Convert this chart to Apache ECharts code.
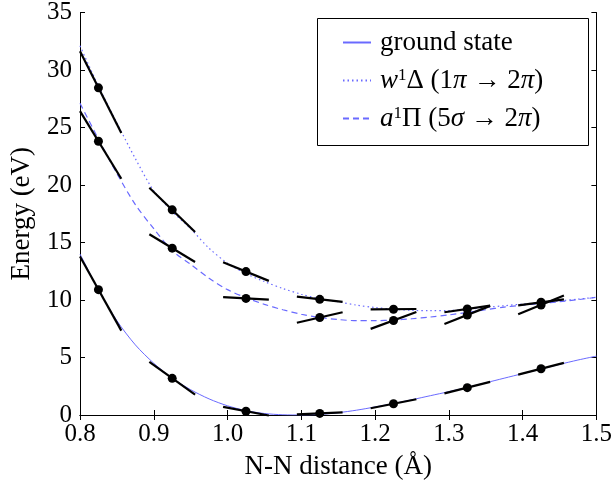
<!DOCTYPE html>
<html><head><meta charset="utf-8">
<script src="https://cdn.jsdelivr.net/npm/echarts@6/dist/echarts.min.js"></script>
<style>html,body{margin:0;padding:0;background:#fff}#c{width:615px;height:485px}</style>
</head><body><div id="c"></div>
<script>
// ---- data ----
const xGrid = [0.800,0.825,0.850,0.875,0.900,0.925,0.950,0.975,1.000,1.025,1.050,1.075,1.100,1.125,1.150,1.175,1.200,1.225,1.250,1.275,1.300,1.325,1.350,1.375,1.400,1.425,1.450,1.475,1.500];
const groundCurve = [14.0,10.9,8.2,6.1,4.5,3.2,2.2,1.4,0.8,0.38,0.13,0.02,0.0,0.05,0.2,0.42,0.7,1.0,1.33,1.68,2.03,2.4,2.8,3.2,3.6,4.0,4.4,4.78,5.12];
const wCurve = [32.1,28.6,25.4,22.3,19.5,17.7,16.2,14.5,13.2,12.3,11.6,11.0,10.5,10.1,9.85,9.55,9.35,9.2,9.1,9.07,9.08,9.18,9.35,9.5,9.65,9.78,9.92,10.08,10.23];
const aCurve = [27.1,24.0,21.0,18.3,16.2,14.3,13.1,11.9,10.9,10.2,9.62,9.15,8.76,8.47,8.3,8.2,8.2,8.26,8.37,8.52,8.7,8.92,9.15,9.38,9.55,9.7,9.85,10.03,10.23];

const pointX = [0.825,0.925,1.025,1.125,1.225,1.325,1.425];
const groundPts = [10.9,3.19,0.33,0.14,0.98,2.38,4.02];
const groundSlopes = [-115,-46,-12,2.8,12.6,16,16.5];
const wPts = [28.45,17.84,12.47,10.06,9.2,9.22,9.8];
const wSlopes = [-127,-62,-26,-7.4,0.5,9.3,8.4];
const aPts = [23.8,14.51,10.14,8.48,8.22,8.7,9.57];
const aSlopes = [-105,-39,-3.7,14.8,23.6,25.4,26.4];

const xMin = 0.8, xMax = 1.5, xStep = 0.1;
const yMin = 0, yMax = 35, yStep = 5;
const seriesNames = ['ground state', 'w1Delta', 'a1Pi'];
const xTitle = 'N-N distance (Å)';
const yTitle = 'Energy (eV)';

// ---- build ----
const HALF = 0.031;
const FONT = '"Liberation Serif", "DejaVu Serif", serif';
const BLUE = '#6a6aff';
const pair = (xs, ys) => xs.map((x, i) => [x, ys[i]]);
const triple = (xs, ys, ss) => xs.map((x, i) => [x, ys[i], ss[i]]);
const segData = [].concat(triple(pointX, groundPts, groundSlopes), triple(pointX, wPts, wSlopes), triple(pointX, aPts, aSlopes));
const ptData = [].concat(pair(pointX, groundPts), pair(pointX, wPts), pair(pointX, aPts));

const chart = echarts.init(document.getElementById('c'), null, {renderer: 'canvas'});
const axisCommon = {
  axisLine: {show: true, lineStyle: {color: '#000', width: 1}},
  axisTick: {show: true, inside: true, length: 5, lineStyle: {color: '#000', width: 1}},
  splitLine: {show: false}
};
const legendLabels = {
  'ground state': 'ground state',
  'w1Delta': '{it|w}{sup|1}Δ (1{it|π} → 2{it|π})',
  'a1Pi': '{it|a}{sup|1}Π (5{it|σ} → 2{it|π})'
};
chart.setOption({
  animation: false,
  backgroundColor: '#fff',
  textStyle: {fontFamily: FONT, color: '#000'},
  grid: {left: 74, right: 16, top: 10, bottom: 69, containLabel: false},
  xAxis: [
    Object.assign({type: 'value', position: 'bottom', min: xMin, max: xMax, interval: xStep,
      name: xTitle, nameLocation: 'middle', nameGap: 38,
      nameTextStyle: {fontFamily: FONT, fontSize: 27, color: '#000'},
      axisLabel: {fontFamily: FONT, fontSize: 25, color: '#000', margin: 7, formatter: v => v.toFixed(1)}}, axisCommon),
    Object.assign({type: 'value', position: 'top', min: xMin, max: xMax, interval: xStep,
      axisLabel: {show: false}}, axisCommon)
  ],
  yAxis: [
    Object.assign({type: 'value', position: 'left', min: yMin, max: yMax, interval: yStep,
      name: yTitle, nameLocation: 'middle', nameGap: 45,
      nameTextStyle: {fontFamily: FONT, fontSize: 27, color: '#000'},
      axisLabel: {fontFamily: FONT, fontSize: 25, color: '#000', margin: 8}}, axisCommon),
    Object.assign({type: 'value', position: 'right', min: yMin, max: yMax, interval: yStep,
      axisLabel: {show: false}}, axisCommon)
  ],
  legend: {
    data: seriesNames,
    left: 337, top: 24,
    orient: 'vertical',
    itemWidth: 28, itemHeight: 14, itemGap: 11,
    itemStyle: {color: 'transparent', borderColor: 'transparent', borderWidth: 0, opacity: 0},
    textStyle: {fontFamily: FONT, fontSize: 27, color: '#000', lineHeight: 27, padding: [0, 0, 0, 4],
      rich: {
        it: {fontFamily: FONT, fontSize: 27, fontStyle: 'italic', color: '#000', lineHeight: 27},
        sup: {fontFamily: FONT, fontSize: 17, color: '#000', padding: [0, 0, 10, 0]}
      }},
    formatter: n => legendLabels[n]
  },
  graphic: [{type: 'rect', left: 317, top: 18, shape: {width: 271, height: 127}, z: -1,
    style: {fill: '#fff', stroke: '#000', lineWidth: 1}}],
  series: [
    {name: seriesNames[0], type: 'line', data: pair(xGrid, groundCurve), smooth: 0.3, symbol: 'none',
      lineStyle: {color: BLUE, width: 1, type: 'solid'}, itemStyle: {color: BLUE}, z: 2},
    {name: seriesNames[1], type: 'line', data: pair(xGrid, wCurve), smooth: 0.3, symbol: 'none',
      lineStyle: {color: BLUE, width: 1.2, type: [1.5, 3]}, itemStyle: {color: BLUE}, z: 2},
    {name: seriesNames[2], type: 'line', data: pair(xGrid, aCurve), smooth: 0.3, symbol: 'none',
      lineStyle: {color: BLUE, width: 1.2, type: [6, 4]}, itemStyle: {color: BLUE}, z: 2},
    {type: 'custom', data: segData, encode: {x: 0, y: 1}, z: 3, silent: true,
      renderItem: function (params, api) {
        const x = api.value(0), y = api.value(1), s = api.value(2);
        const x1 = Math.max(x - HALF, xMin), x2 = Math.min(x + HALF, xMax);
        const p1 = api.coord([x1, y + (x1 - x) * s]);
        const p2 = api.coord([x2, y + (x2 - x) * s]);
        return {type: 'line', shape: {x1: p1[0], y1: p1[1], x2: p2[0], y2: p2[1]},
          style: {stroke: '#000', lineWidth: 2.2}};
      }},
    {type: 'scatter', data: ptData, symbol: 'circle', symbolSize: 9,
      itemStyle: {color: '#000', opacity: 1}, z: 4, silent: true}
  ]
});
</script></body></html>
